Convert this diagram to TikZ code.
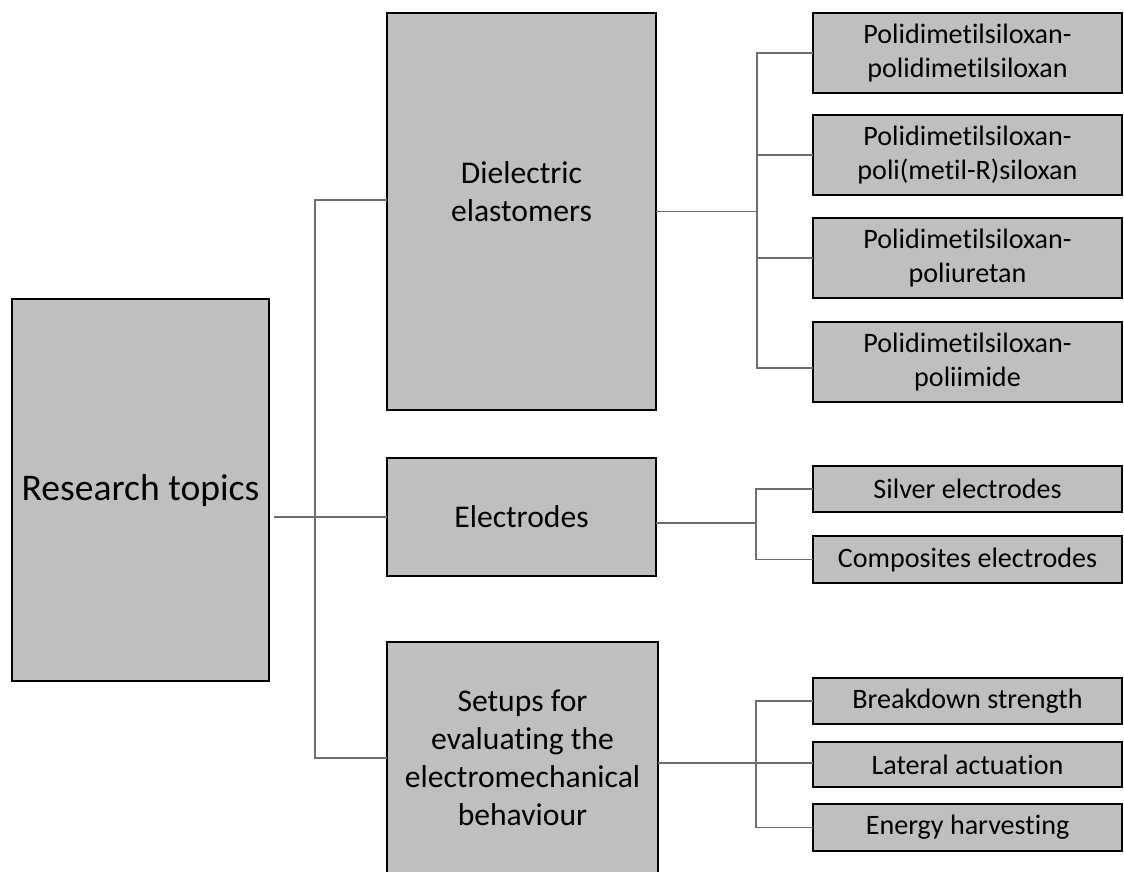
\documentclass[tikz,border=0pt]{standalone}
\usepackage{fontspec}
\setmainfont[Ligatures=NoCommon]{Carlito}
\usetikzlibrary{calc}
\definecolor{boxfill}{HTML}{BFBFBF}
\definecolor{connc}{HTML}{6E6E6E}
\tikzset{
  box/.style={draw=black, line width=1.1pt, fill=boxfill, rectangle, inner sep=0pt, outer sep=0pt, align=center, font=\fontsize{16}{19.2}\selectfont},
  bigbox/.style={box, minimum width=5.38cm, font=\fontsize{18}{21.6}\selectfont},
  subbox/.style={box, minimum width=6.18cm},
  txt/.style={inner sep=0pt, align=center, font=\fontsize{18}{21.6}\selectfont},
  conn/.style={draw=connc, line width=0.6pt}
}
\begin{document}
\begin{tikzpicture}[x=0.02cm, y=-0.02cm]
\clip (0,0) rectangle (1124,871);
\fill[white] (0,0) rectangle (1124,871);

% root
\node[box, minimum width=5.14cm, minimum height=7.64cm, font=\fontsize{21.4}{25.7}\selectfont] (RT) at (140.5,490) {Research topics};

% level 1
\node[bigbox, minimum height=7.94cm] (DE) at (521.5,211.5) {};
\node[txt] (DEt) at (521.5,192) {Dielectric\\elastomers};
\node[bigbox, minimum height=2.36cm] (EL) at (521.5,517) {Electrodes};
\node[bigbox, minimum width=5.42cm, minimum height=4.64cm] (SE) at (522.5,758) {Setups for\\evaluating the\\electromechanical\\behaviour};

% level 2
\node[subbox, minimum height=1.6cm] (P1) at (967.5,53) {Polidimetilsiloxan-\\polidimetilsiloxan};
\node[subbox, minimum height=1.6cm] (P2) at (967.5,155) {Polidimetilsiloxan-\\poli(metil-R)siloxan};
\node[subbox, minimum height=1.6cm] (P3) at (967.5,258) {Polidimetilsiloxan-\\poliuretan};
\node[subbox, minimum height=1.6cm] (P4) at (967.5,362) {Polidimetilsiloxan-\\poliimide};

\node[subbox, minimum height=0.92cm] (S1) at (967.5,489) {Silver electrodes};
\node[subbox, minimum height=0.94cm] (S2) at (967.5,559.5) {Composites electrodes};

\node[subbox, minimum height=0.92cm] (B1) at (967.5,701) {Breakdown strength};
\node[subbox, minimum height=0.9cm] (B2) at (967.5,764.5) {Lateral actuation};
\node[subbox, minimum height=0.94cm] (B3) at (967.5,827.5) {Energy harvesting};

% junction coordinates
\coordinate (j1) at (315,200);
\coordinate (j2) at (315,758);
\coordinate (h1) at (757,211.5);
\coordinate (h2) at (756,523);
\coordinate (h3) at (756,763);

% trunk
\draw[conn] (j1 -| DE.west) -- (j1) -- (j2) -- (j2 -| SE.west);
\draw[conn] ($(RT.east |- EL.west)+(5,0)$) -- (EL.west);

% dielectric branch
\draw[conn] (DE.east) -- (h1);
\draw[conn] (P1.west) -- (P1.west -| h1) -- ($(P4.west -| h1)+(0,6)$) -- ($(P4.west)+(0,6)$);
\draw[conn] (P2.west -| h1) -- (P2.west);
\draw[conn] (P3.west -| h1) -- (P3.west);

% electrodes branch
\draw[conn] (h2 -| EL.east) -- (h2);
\draw[conn] (S1.west) -- (S1.west -| h2) -- (S2.west -| h2) -- (S2.west);

% setups branch
\draw[conn] (h3 -| SE.east) -- (h3);
\draw[conn] (B1.west) -- (B1.west -| h3) -- (B3.west -| h3) -- (B3.west);
\draw[conn] (h3) -- (h3 -| B2.west);
\end{tikzpicture}
\end{document}
